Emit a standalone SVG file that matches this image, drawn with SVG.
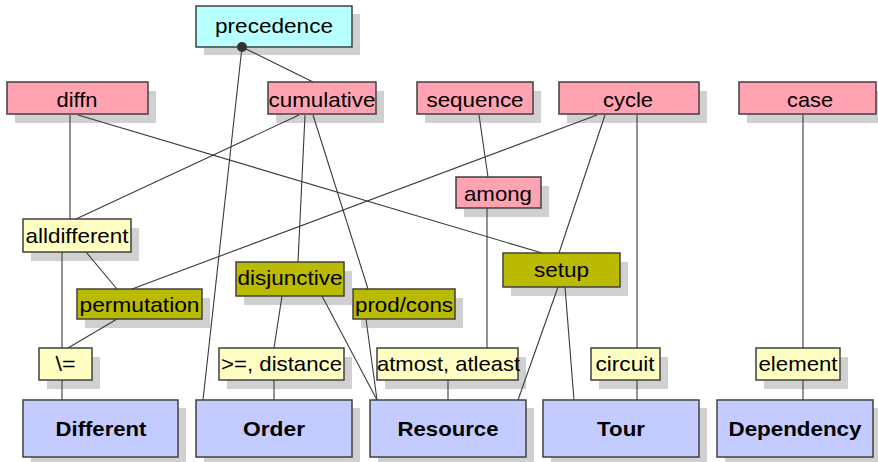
<svg xmlns="http://www.w3.org/2000/svg" width="878" height="462" viewBox="0 0 878 462">
<style>
.sh{fill:#d0d0d0;stroke:none}
.b{stroke:#404040;stroke-width:1.5}
.cy{fill:#b8ffff}
.pk{fill:#ffa3b2}
.ly{fill:#ffffc4}
.ol{fill:#baba00}
.bl{fill:#c4ccff}
text{font-family:"Liberation Sans",Arial,sans-serif;font-size:21px;fill:#000;text-anchor:middle}
.bd{font-weight:bold}
.c line{stroke:#3a3a3a;stroke-width:1.1}
</style>
<rect width="878" height="462" fill="#fff"/>
<g id="precedence"><rect class="sh" x="204" y="14" width="156" height="41"/><rect class="b cy" x="196" y="6" width="156" height="41"/><text x="274" y="33" textLength="118" lengthAdjust="spacingAndGlyphs">precedence</text></g>
<g id="diffn"><rect class="sh" x="15" y="91" width="141" height="32"/><rect class="b pk" x="7" y="82" width="141" height="32"/><text x="77" y="107" textLength="41" lengthAdjust="spacingAndGlyphs">diffn</text></g>
<g id="cumulative"><rect class="sh" x="276" y="91" width="108" height="32"/><rect class="b pk" x="268" y="82" width="108" height="32"/><text x="322" y="107" textLength="107" lengthAdjust="spacingAndGlyphs">cumulative</text></g>
<g id="sequence"><rect class="sh" x="425" y="91" width="116" height="32"/><rect class="b pk" x="417" y="82" width="116" height="32"/><text x="475" y="107" textLength="97" lengthAdjust="spacingAndGlyphs">sequence</text></g>
<g id="cycle"><rect class="sh" x="567" y="91" width="140" height="32"/><rect class="b pk" x="559" y="82" width="140" height="32"/><text x="628" y="107" textLength="50" lengthAdjust="spacingAndGlyphs">cycle</text></g>
<g id="case"><rect class="sh" x="747" y="91" width="138" height="32"/><rect class="b pk" x="739" y="82" width="137" height="32"/><text x="810" y="107" textLength="46" lengthAdjust="spacingAndGlyphs">case</text></g>
<g id="among"><rect class="sh" x="464" y="186" width="85" height="31"/><rect class="b pk" x="456" y="177" width="85" height="31"/><text x="498" y="201" textLength="68" lengthAdjust="spacingAndGlyphs">among</text></g>
<g id="alldifferent"><rect class="sh" x="31" y="228" width="108" height="33"/><rect class="b ly" x="23" y="219" width="108" height="33"/><text x="77" y="243" textLength="103" lengthAdjust="spacingAndGlyphs">alldifferent</text></g>
<g id="setup"><rect class="sh" x="511" y="262" width="117" height="34"/><rect class="b ol" x="503" y="253" width="117" height="34"/><text x="561.5" y="277" textLength="55" lengthAdjust="spacingAndGlyphs">setup</text></g>
<g id="disjunctive"><rect class="sh" x="244" y="271" width="108" height="34"/><rect class="b ol" x="236" y="262" width="108" height="34"/><text x="290" y="285" textLength="105" lengthAdjust="spacingAndGlyphs">disjunctive</text></g>
<g id="permutation"><rect class="sh" x="85" y="298" width="125" height="30"/><rect class="b ol" x="77" y="289" width="125" height="30"/><text x="139.5" y="312" textLength="120" lengthAdjust="spacingAndGlyphs">permutation</text></g>
<g id="prodcons"><rect class="sh" x="361" y="298" width="102" height="30"/><rect class="b ol" x="353" y="289" width="102" height="30"/><text x="404" y="312" textLength="98" lengthAdjust="spacingAndGlyphs">prod/cons</text></g>
<g id="neq"><rect class="sh" x="47" y="357" width="53" height="32"/><rect class="b ly" x="39" y="348" width="53" height="32"/><text x="65.5" y="371" textLength="20" lengthAdjust="spacingAndGlyphs">\=</text></g>
<g id="distance"><rect class="sh" x="227" y="357" width="125" height="32"/><rect class="b ly" x="219" y="348" width="125" height="32"/><text x="281.5" y="371" textLength="121" lengthAdjust="spacingAndGlyphs">&gt;=, distance</text></g>
<g id="atmost"><rect class="sh" x="385" y="357" width="141" height="32"/><rect class="b ly" x="377" y="348" width="141" height="32"/><text x="448.5" y="371" textLength="143" lengthAdjust="spacingAndGlyphs">atmost, atleast</text></g>
<g id="circuit"><rect class="sh" x="599" y="357" width="69" height="32"/><rect class="b ly" x="591" y="348" width="69" height="32"/><text x="625" y="371" textLength="59" lengthAdjust="spacingAndGlyphs">circuit</text></g>
<g id="element"><rect class="sh" x="764" y="357" width="84" height="32"/><rect class="b ly" x="756" y="348" width="84" height="32"/><text x="798" y="371" textLength="79" lengthAdjust="spacingAndGlyphs">element</text></g>
<g id="Different"><rect class="sh" x="31" y="408" width="155" height="57"/><rect class="b bl" x="23" y="400" width="155" height="57"/><text class="bd" x="101" y="436" textLength="91" lengthAdjust="spacingAndGlyphs">Different</text></g>
<g id="Order"><rect class="sh" x="204" y="408" width="156" height="57"/><rect class="b bl" x="196" y="400" width="156" height="57"/><text class="bd" x="274" y="436" textLength="62" lengthAdjust="spacingAndGlyphs">Order</text></g>
<g id="Resource"><rect class="sh" x="378" y="408" width="156" height="57"/><rect class="b bl" x="370" y="400" width="156" height="57"/><text class="bd" x="448" y="436" textLength="101" lengthAdjust="spacingAndGlyphs">Resource</text></g>
<g id="Tour"><rect class="sh" x="551" y="408" width="156" height="57"/><rect class="b bl" x="543" y="400" width="156" height="57"/><text class="bd" x="621" y="436" textLength="48" lengthAdjust="spacingAndGlyphs">Tour</text></g>
<g id="Dependency"><rect class="sh" x="725" y="408" width="156" height="57"/><rect class="b bl" x="717" y="400" width="156" height="57"/><text class="bd" x="795" y="436" textLength="133" lengthAdjust="spacingAndGlyphs">Dependency</text></g>
<g id="connectors" class="c">
<line x1="242" y1="47" x2="313" y2="82"/>
<line x1="242" y1="47" x2="203" y2="400"/>
<line x1="70" y1="115" x2="70" y2="219"/>
<line x1="78" y1="115" x2="542" y2="253"/>
<line x1="299" y1="115" x2="76" y2="219"/>
<line x1="305" y1="115" x2="298" y2="262"/>
<line x1="313" y1="115" x2="368" y2="289"/>
<line x1="366" y1="319" x2="377" y2="400"/>
<line x1="322" y1="296" x2="377" y2="400"/>
<line x1="282" y1="296" x2="274" y2="348"/>
<line x1="274" y1="380" x2="274" y2="400"/>
<line x1="62" y1="252" x2="62" y2="348"/>
<line x1="62" y1="380" x2="62" y2="400"/>
<line x1="86" y1="252" x2="117" y2="289"/>
<line x1="117" y1="319" x2="68" y2="348"/>
<line x1="597" y1="115" x2="132" y2="289"/>
<line x1="605" y1="115" x2="559" y2="253"/>
<line x1="558" y1="287" x2="518" y2="400"/>
<line x1="565" y1="287" x2="574" y2="400"/>
<line x1="637" y1="115" x2="637" y2="348"/>
<line x1="637" y1="380" x2="637" y2="400"/>
<line x1="479" y1="115" x2="488" y2="177"/>
<line x1="487" y1="208" x2="487" y2="348"/>
<line x1="448" y1="380" x2="448" y2="400"/>
<line x1="803" y1="115" x2="803" y2="348"/>
<line x1="803" y1="380" x2="803" y2="400"/>
<circle cx="242" cy="47" r="5" fill="#333" stroke="none"/>
</g>
</svg>
